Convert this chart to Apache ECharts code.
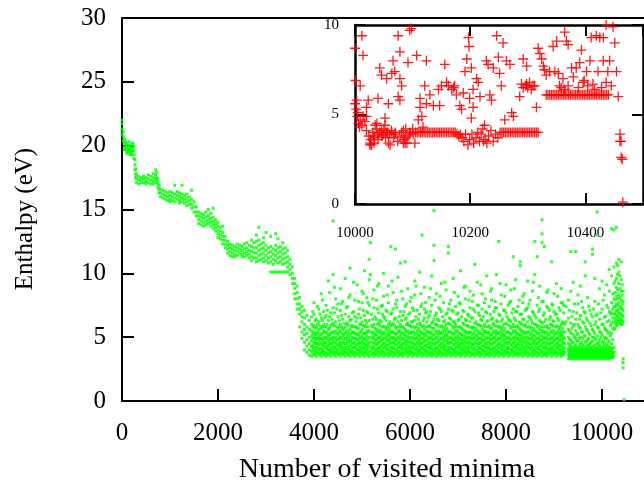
<!DOCTYPE html>
<html>
<head>
<meta charset="utf-8">
<script src="https://cdn.jsdelivr.net/npm/echarts@6/dist/echarts.min.js"></script>
<style>
  html, body { margin: 0; padding: 0; background: #fff; }
  #chart { width: 644px; height: 488px; }
</style>
</head>
<body>
<div id="chart"></div>
<script>
// Enthalpy (eV) of visited minima. Each row: [minimum index, enthalpy values at that index...]
// Initial descent, from the starting structure down to the low-enthalpy basin.
const descentCols = [
  [0, 22.0, 21.7, 21.3, 20.9],
  [25, 21.1, 20.7, 20.4],
  [50, 20.5, 20.2, 19.9, 19.7],
  [75, 20.3, 20.0, 19.7],
  [100, 20.2, 19.9, 19.6, 19.4],
  [125, 20.0, 19.7, 19.5],
  [150, 20.3, 20.0, 19.7, 19.4],
  [175, 19.9, 19.6, 19.3],
  [200, 20.1, 19.8, 19.5, 19.3],
  [225, 20.2, 19.9, 19.6],
  [250, 19.9, 19.6, 19.3, 19.0],
  [270, 18.9, 18.5, 18.1],
  [285, 18.2, 17.8, 17.5],
  [300, 17.7, 17.4, 17.1],
  [350, 17.6, 17.3, 17.0],
  [400, 17.5, 17.3, 17.1],
  [450, 17.6, 17.4, 17.1],
  [500, 17.5, 17.2, 17.0],
  [550, 17.7, 17.4, 17.1],
  [600, 17.6, 17.3, 17.0],
  [650, 17.8, 17.5, 17.2, 17.0],
  [700, 18.1, 17.7, 17.4, 17.1],
  [725, 17.9, 17.5, 17.2],
  [750, 17.4, 17.0, 16.7],
  [775, 16.9, 16.6, 16.3],
  [800, 16.6, 16.3, 16.0],
  [850, 16.5, 16.2, 15.9],
  [900, 16.4, 16.1, 15.8],
  [950, 16.3, 16.0, 15.7],
  [1000, 16.4, 16.1, 15.8, 15.6],
  [1050, 16.3, 16.0, 15.7],
  [1100, 16.9, 16.2, 15.9, 15.6],
  [1150, 16.4, 16.1, 15.8],
  [1200, 16.3, 16.0, 15.7, 15.5],
  [1250, 16.9, 16.2, 15.9, 15.6],
  [1300, 16.1, 15.8, 15.5],
  [1350, 16.2, 15.9, 15.6, 15.3],
  [1400, 16.0, 15.7, 15.4],
  [1450, 16.5, 15.8, 15.4, 15.1],
  [1500, 15.6, 15.2, 14.8],
  [1550, 15.2, 14.8, 14.5],
  [1600, 14.8, 14.5, 14.2, 13.9],
  [1650, 14.7, 14.4, 14.1, 13.8],
  [1700, 14.6, 14.3, 14.0, 13.7],
  [1750, 14.8, 14.4, 14.1, 13.8],
  [1800, 15.0, 14.5, 14.2, 13.9],
  [1850, 14.7, 14.3, 14.0, 13.7],
  [1900, 15.1, 14.4, 14.1, 13.8, 13.5],
  [1950, 14.2, 13.9, 13.6, 13.3],
  [2000, 14.0, 13.7, 13.4, 13.1, 12.8],
  [2050, 13.6, 13.3, 13.0, 12.7],
  [2100, 13.7, 13.2, 12.9, 12.6, 12.3],
  [2150, 12.9, 12.6, 12.3, 12.0],
  [2200, 12.5, 12.2, 11.9, 11.6],
  [2250, 12.3, 12.0, 11.7, 11.4],
  [2300, 12.2, 11.9, 11.6, 11.3],
  [2350, 12.1, 11.8, 11.5, 11.3],
  [2400, 12.3, 12.0, 11.7, 11.4],
  [2450, 12.2, 11.9, 11.6],
  [2500, 12.1, 11.8, 11.5, 11.3],
  [2550, 12.3, 11.9, 11.6, 11.3],
  [2600, 12.4, 12.0, 11.7, 11.4],
  [2650, 12.2, 11.8, 11.5, 11.2],
  [2700, 12.6, 12.1, 11.7, 11.3, 11.0],
  [2750, 12.4, 12.0, 11.6, 11.2],
  [2800, 13.0, 12.5, 12.0, 11.6, 11.2, 10.9],
  [2850, 13.6, 12.6, 12.2, 11.8, 11.4, 11.0],
  [2900, 12.3, 11.9, 11.5, 11.1],
  [2950, 12.8, 12.4, 12.0, 11.6, 11.2, 10.9],
  [3000, 13.2, 12.2, 11.8, 11.4, 11.0],
  [3050, 12.0, 11.6, 11.2, 10.8],
  [3100, 12.9, 12.1, 11.7, 11.3, 10.9, 10.1],
  [3150, 11.9, 11.5, 11.1, 10.7, 10.1],
  [3200, 13.1, 12.2, 11.8, 11.4, 11.0, 10.1],
  [3250, 12.7, 12.0, 11.6, 11.2, 10.8, 10.1],
  [3300, 12.1, 11.7, 11.3, 10.9, 10.1],
  [3350, 12.4, 11.9, 11.5, 11.1, 10.7, 10.1],
  [3400, 12.0, 11.6, 11.2, 10.8, 10.1],
  [3450, 11.8, 11.3, 10.9, 10.5, 10.1],
  [3500, 11.1, 10.7, 10.3, 9.9],
  [3550, 10.5, 10.0, 9.6, 9.2],
  [3600, 9.6, 9.2, 8.8, 8.4, 8.0],
  [3650, 9.0, 8.5, 8.0, 7.6, 7.2],
  [3700, 8.1, 7.6, 7.2, 6.8, 5.8],
  [3750, 7.4, 7.0, 6.6, 6.2, 5.4, 4.9],
  [3800, 7.1, 6.5, 6.0, 5.6, 5.2, 4.6, 4.0],
  [3850, 6.7, 5.8, 5.3, 4.8, 4.3, 3.8],
  [3900, 6.3, 5.6, 5.0, 4.5, 4.0, 3.6]
];

// Long plateau in the low-enthalpy basin.
const plateauCols = [
  [3950, 3.5, 3.9, 4.3, 4.7, 5.1, 5.5, 6.0, 6.6],
  [4000, 3.6, 3.9, 4.2, 4.6, 5.0, 5.4, 5.9, 6.8, 7.7],
  [4050, 3.5, 3.8, 4.2, 4.5, 4.9, 5.3, 5.8, 6.4],
  [4100, 3.6, 4.0, 4.4, 4.8, 5.1, 5.6, 6.2, 7.2],
  [4150, 3.5, 3.8, 4.1, 4.5, 4.9, 5.2, 5.7, 6.5, 8.4],
  [4200, 3.6, 3.9, 4.3, 4.6, 5.0, 5.5, 6.0, 7.0],
  [4250, 3.5, 3.8, 4.2, 4.6, 5.0, 5.4, 5.8, 6.7, 7.5],
  [4300, 3.6, 4.0, 4.3, 4.7, 5.1, 5.6, 6.3, 9.4],
  [4350, 3.5, 3.9, 4.2, 4.5, 4.9, 5.3, 5.9, 6.9],
  [4400, 3.6, 3.9, 4.3, 4.7, 5.0, 5.4, 6.1, 7.3, 9.9, 14.1],
  [4450, 3.5, 3.8, 4.2, 4.6, 5.0, 5.5, 6.2, 8.0],
  [4500, 3.6, 4.0, 4.4, 4.8, 5.2, 5.7, 6.6, 7.6],
  [4550, 3.5, 3.9, 4.3, 4.6, 5.0, 5.5, 6.0, 7.1, 8.8],
  [4600, 3.6, 3.9, 4.2, 4.6, 5.1, 5.6, 6.4, 7.8],
  [4650, 3.5, 3.8, 4.2, 4.5, 4.9, 5.3, 5.8, 6.8, 9.6],
  [4700, 3.6, 4.0, 4.3, 4.7, 5.1, 5.5, 6.1, 7.4],
  [4750, 3.5, 3.9, 4.3, 4.7, 5.1, 5.6, 6.3, 8.3, 10.4],
  [4800, 3.6, 3.9, 4.2, 4.6, 5.0, 5.4, 5.9, 6.9],
  [4850, 3.5, 3.8, 4.2, 4.6, 4.9, 5.3, 5.8, 6.6, 7.9],
  [4900, 3.6, 4.0, 4.4, 4.8, 5.2, 5.7, 6.5, 9.1],
  [4950, 3.5, 3.9, 4.2, 4.6, 5.0, 5.4, 6.0, 7.2],
  [5000, 3.6, 3.9, 4.3, 4.7, 5.1, 5.6, 6.2, 7.7, 8.6],
  [5050, 3.5, 3.8, 4.2, 4.5, 4.9, 5.3, 5.9, 6.7, 10.2],
  [5100, 3.6, 4.0, 4.3, 4.7, 5.1, 5.5, 6.1, 7.0, 8.1],
  [5150, 3.5, 3.9, 4.3, 4.6, 5.0, 5.5, 6.3, 7.5, 9.5, 11.1],
  [5175, 12.4, 9.9],
  [5200, 3.6, 3.9, 4.2, 4.6, 5.0, 5.4, 5.9, 6.8],
  [5250, 3.5, 3.8, 4.2, 4.6, 5.0, 5.4, 6.0, 7.3, 8.7],
  [5300, 3.6, 4.0, 4.4, 4.8, 5.2, 5.6, 6.4, 7.9],
  [5350, 3.5, 3.9, 4.2, 4.6, 5.0, 5.5, 6.1, 6.9, 9.2],
  [5400, 3.6, 3.9, 4.3, 4.7, 5.1, 5.5, 6.2, 7.4],
  [5450, 3.5, 3.8, 4.2, 4.5, 4.9, 5.3, 5.8, 6.6, 8.2, 10.0],
  [5500, 3.6, 4.0, 4.3, 4.7, 5.1, 5.6, 6.3, 7.1],
  [5550, 3.5, 3.9, 4.3, 4.7, 5.1, 5.5, 6.0, 7.7, 9.0],
  [5600, 3.6, 3.9, 4.2, 4.6, 5.0, 5.4, 5.9, 6.8, 12.1],
  [5650, 3.5, 3.8, 4.2, 4.6, 5.0, 5.4, 6.1, 7.2, 8.5],
  [5700, 3.6, 4.0, 4.4, 4.8, 5.2, 5.7, 6.5, 7.6, 11.9],
  [5750, 3.5, 3.9, 4.2, 4.6, 5.0, 5.5, 6.2, 9.7],
  [5800, 3.6, 3.9, 4.3, 4.7, 5.1, 5.5, 6.0, 7.0, 10.8],
  [5850, 3.5, 3.8, 4.2, 4.5, 4.9, 5.3, 5.8, 6.7, 8.0],
  [5900, 3.6, 4.0, 4.3, 4.7, 5.1, 5.6, 6.4, 7.4, 10.9],
  [5950, 3.5, 3.9, 4.3, 4.7, 5.1, 5.5, 6.1, 8.8],
  [6000, 3.6, 3.9, 4.2, 4.6, 5.0, 5.4, 5.9, 6.9, 7.8],
  [6050, 3.5, 3.8, 4.2, 4.6, 5.0, 5.4, 6.2, 7.3],
  [6100, 3.6, 4.0, 4.4, 4.8, 5.2, 5.7, 6.3, 8.3, 9.4],
  [6150, 3.5, 3.9, 4.2, 4.6, 5.0, 5.5, 6.0, 7.1],
  [6200, 3.6, 3.9, 4.3, 4.7, 5.1, 5.5, 6.1, 6.8, 10.1],
  [6250, 3.5, 3.8, 4.2, 4.5, 4.9, 5.3, 5.8, 7.6, 13.0],
  [6300, 3.6, 4.0, 4.3, 4.7, 5.1, 5.6, 6.5, 7.2, 8.9],
  [6350, 3.5, 3.9, 4.3, 4.7, 5.1, 5.5, 6.2, 7.0],
  [6400, 3.6, 3.9, 4.2, 4.6, 5.0, 5.4, 5.9, 6.7, 8.1],
  [6450, 3.5, 3.8, 4.2, 4.6, 5.0, 5.4, 6.1, 7.5, 9.8],
  [6500, 3.6, 4.0, 4.4, 4.8, 5.2, 5.7, 6.4, 11.0, 12.2, 14.9],
  [6550, 3.5, 3.9, 4.2, 4.6, 5.0, 5.5, 6.0, 6.9, 8.4],
  [6600, 3.6, 3.9, 4.3, 4.7, 5.1, 5.5, 6.3, 7.3],
  [6650, 3.5, 3.8, 4.2, 4.5, 4.9, 5.3, 5.9, 7.0, 9.2],
  [6700, 3.6, 4.0, 4.3, 4.7, 5.1, 5.6, 6.2, 7.7],
  [6750, 3.5, 3.9, 4.3, 4.7, 5.1, 5.5, 6.0, 6.8, 8.7],
  [6800, 3.6, 3.9, 4.2, 4.6, 5.0, 5.4, 6.1, 7.2, 11.6, 12.1],
  [6850, 3.5, 3.8, 4.2, 4.6, 5.0, 5.4, 6.4, 7.9],
  [6900, 3.6, 4.0, 4.4, 4.8, 5.2, 5.7, 6.2, 7.0, 9.6],
  [6950, 3.5, 3.9, 4.2, 4.6, 5.0, 5.5, 6.0, 7.4],
  [7000, 3.6, 3.9, 4.3, 4.7, 5.1, 5.5, 6.3, 6.9, 8.2],
  [7050, 3.5, 3.8, 4.2, 4.5, 4.9, 5.3, 5.8, 7.6, 10.2],
  [7100, 3.6, 4.0, 4.3, 4.7, 5.1, 5.6, 6.1, 7.1],
  [7150, 3.5, 3.9, 4.3, 4.7, 5.1, 5.5, 6.4, 8.0, 9.0],
  [7200, 3.6, 3.9, 4.2, 4.6, 5.0, 5.4, 5.9, 6.8],
  [7250, 3.5, 3.8, 4.2, 4.6, 5.0, 5.4, 6.2, 7.3, 8.6],
  [7300, 3.6, 4.0, 4.4, 4.8, 5.2, 5.7, 6.5, 7.8],
  [7350, 3.5, 3.9, 4.2, 4.6, 5.0, 5.5, 6.1, 7.0, 10.7],
  [7400, 3.6, 3.9, 4.3, 4.7, 5.1, 5.5, 6.0, 7.5, 9.3],
  [7450, 3.5, 3.8, 4.2, 4.5, 4.9, 5.3, 5.9, 6.7],
  [7500, 3.6, 4.0, 4.3, 4.7, 5.1, 5.6, 6.3, 7.2, 8.4],
  [7550, 3.5, 3.9, 4.3, 4.7, 5.1, 5.5, 6.0, 7.7],
  [7600, 3.6, 3.9, 4.2, 4.6, 5.0, 5.4, 6.2, 6.9, 9.8],
  [7650, 3.5, 3.8, 4.2, 4.6, 5.0, 5.4, 5.9, 7.4],
  [7700, 3.6, 4.0, 4.4, 4.8, 5.2, 5.7, 6.4, 7.9, 8.8],
  [7750, 3.5, 3.9, 4.2, 4.6, 5.0, 5.5, 6.1, 7.0],
  [7800, 3.6, 3.9, 4.3, 4.7, 5.1, 5.5, 6.3, 7.3, 9.9],
  [7850, 3.5, 3.8, 4.2, 4.5, 4.9, 5.3, 5.8, 6.8, 12.5],
  [7900, 3.6, 4.0, 4.3, 4.7, 5.1, 5.6, 6.2, 7.6, 8.3],
  [7950, 3.5, 3.9, 4.3, 4.7, 5.1, 5.5, 6.0, 7.1],
  [8000, 3.6, 3.9, 4.2, 4.6, 5.0, 5.4, 6.1, 6.9, 9.1],
  [8050, 3.5, 3.8, 4.2, 4.6, 5.0, 5.4, 6.4, 7.5],
  [8100, 3.6, 4.0, 4.4, 4.8, 5.2, 5.7, 6.2, 7.8, 8.7],
  [8150, 3.5, 3.9, 4.2, 4.6, 5.0, 5.5, 6.0, 7.2, 11.3],
  [8200, 3.6, 3.9, 4.3, 4.7, 5.1, 5.5, 6.3, 7.0, 9.5],
  [8250, 3.5, 3.8, 4.2, 4.5, 4.9, 5.3, 5.9, 7.4],
  [8300, 3.6, 4.0, 4.3, 4.7, 5.1, 5.6, 6.1, 6.8, 10.6, 10.9],
  [8350, 3.5, 3.9, 4.3, 4.7, 5.1, 5.5, 6.4, 7.7, 8.2],
  [8400, 3.6, 3.9, 4.2, 4.6, 5.0, 5.4, 6.0, 7.1],
  [8450, 3.5, 3.8, 4.2, 4.6, 5.0, 5.4, 6.2, 7.3, 9.4],
  [8500, 3.6, 4.0, 4.4, 4.8, 5.2, 5.7, 6.5, 7.9],
  [8550, 3.5, 3.9, 4.2, 4.6, 5.0, 5.5, 6.1, 7.0, 8.6],
  [8600, 3.6, 3.9, 4.3, 4.7, 5.1, 5.5, 6.0, 6.7, 9.9, 12.5],
  [8650, 3.5, 3.8, 4.2, 4.5, 4.9, 5.3, 5.8, 7.5, 11.3],
  [8700, 3.6, 4.0, 4.3, 4.7, 5.1, 5.6, 6.3, 7.2, 9.0],
  [8750, 3.5, 3.9, 4.3, 4.7, 5.1, 5.5, 6.1, 7.8, 12.4, 13.1, 14.2],
  [8800, 3.6, 3.9, 4.2, 4.6, 5.0, 5.4, 6.2, 6.9, 12.1],
  [8850, 3.5, 3.8, 4.2, 4.6, 5.0, 5.4, 5.9, 7.4, 8.5],
  [8900, 3.6, 4.0, 4.4, 4.8, 5.2, 5.7, 6.4, 7.1],
  [8950, 3.5, 3.9, 4.2, 4.6, 5.0, 5.5, 6.0, 7.6, 10.9],
  [9000, 3.6, 3.9, 4.3, 4.7, 5.1, 5.5, 6.2, 7.0, 8.4],
  [9050, 3.5, 3.8, 4.2, 4.5, 4.9, 5.3, 5.9, 6.8, 9.2],
  [9100, 3.6, 4.0, 4.3, 4.7, 5.1, 5.6, 6.3, 7.3],
  [9150, 3.5, 3.9, 4.3, 4.7, 5.1, 5.5, 6.0, 7.7, 8.8],
  [9200, 3.6, 3.9, 4.2, 4.6, 5.0, 5.4, 6.1, 6.9, 7.5],
  [9250, 6.2, 7.4]
];

// Minima visited between the rows above, on the same plateau.
const plateauColsMid = [
  [3975, 3.7, 4.1, 4.4, 4.9, 5.3, 5.8, 7.0],
  [4025, 3.7, 4.0, 4.5, 4.8, 5.2, 5.7, 6.3],
  [4075, 3.8, 4.1, 4.5, 4.9, 5.4, 6.0, 7.4],
  [4125, 3.7, 4.1, 4.6, 4.9, 5.3, 5.9, 6.8],
  [4175, 3.8, 4.0, 4.4, 4.8, 5.3, 5.8, 6.3, 7.9],
  [4225, 3.7, 4.2, 4.5, 4.9, 5.4, 5.8, 6.5],
  [4275, 3.7, 4.1, 4.4, 4.9, 5.3, 6.0, 7.1],
  [4325, 3.7, 4.0, 4.5, 4.8, 5.2, 5.7, 6.6, 8.5],
  [4375, 3.8, 4.1, 4.5, 4.9, 5.4, 6.0, 6.4],
  [4425, 3.7, 4.1, 4.6, 4.9, 5.3, 5.9, 6.9, 8.9],
  [4475, 3.8, 4.0, 4.4, 4.8, 5.3, 5.8, 7.2],
  [4525, 3.7, 4.2, 4.5, 4.9, 5.4, 5.8, 6.3],
  [4575, 3.7, 4.1, 4.4, 4.9, 5.3, 5.8, 6.7, 7.6],
  [4625, 3.7, 4.0, 4.5, 4.8, 5.2, 5.7, 6.1],
  [4675, 3.8, 4.1, 4.5, 4.9, 5.4, 6.0, 7.3],
  [4725, 3.7, 4.1, 4.6, 4.9, 5.3, 5.9, 6.6, 8.1],
  [4775, 3.8, 4.0, 4.4, 4.8, 5.3, 5.8, 6.4],
  [4825, 3.7, 4.2, 4.5, 4.9, 5.4, 5.8, 7.0, 9.3],
  [4875, 3.7, 4.1, 4.4, 4.9, 5.3, 5.8, 6.2],
  [4925, 3.7, 4.0, 4.5, 4.8, 5.2, 5.7, 6.8, 7.8],
  [4975, 3.8, 4.1, 4.5, 4.9, 5.4, 6.0, 6.5],
  [5025, 3.7, 4.1, 4.6, 4.9, 5.3, 5.9, 7.1, 8.4],
  [5075, 3.8, 4.0, 4.4, 4.8, 5.3, 5.8, 6.3],
  [5125, 3.7, 4.2, 4.5, 4.9, 5.4, 5.8, 6.9, 7.7],
  [5225, 3.7, 4.1, 4.4, 4.9, 5.3, 5.8, 6.4, 8.0],
  [5275, 3.7, 4.0, 4.5, 4.8, 5.2, 5.7, 6.6],
  [5325, 3.8, 4.1, 4.5, 4.9, 5.4, 6.0, 7.2, 9.0],
  [5375, 3.7, 4.1, 4.6, 4.9, 5.3, 5.9, 6.3],
  [5425, 3.8, 4.0, 4.4, 4.8, 5.3, 5.8, 6.8, 7.5],
  [5475, 3.7, 4.2, 4.5, 4.9, 5.4, 5.8, 6.5],
  [5525, 3.7, 4.1, 4.4, 4.9, 5.3, 5.8, 7.0, 8.3],
  [5575, 3.7, 4.0, 4.5, 4.8, 5.2, 5.7, 6.2],
  [5625, 3.8, 4.1, 4.5, 4.9, 5.4, 6.0, 6.9, 9.4],
  [5675, 3.7, 4.1, 4.6, 4.9, 5.3, 5.9, 6.4],
  [5725, 3.8, 4.0, 4.4, 4.8, 5.3, 5.8, 7.3, 7.9],
  [5775, 3.7, 4.2, 4.5, 4.9, 5.4, 5.8, 6.6],
  [5825, 3.7, 4.1, 4.4, 4.9, 5.3, 5.8, 6.3, 8.6],
  [5875, 3.7, 4.0, 4.5, 4.8, 5.2, 5.7, 7.0],
  [5925, 3.8, 4.1, 4.5, 4.9, 5.4, 6.0, 6.5, 7.6],
  [5975, 3.7, 4.1, 4.6, 4.9, 5.3, 5.9, 6.8],
  [6025, 3.8, 4.0, 4.4, 4.8, 5.3, 5.8, 6.2, 8.1],
  [6075, 3.7, 4.2, 4.5, 4.9, 5.4, 5.8, 7.1],
  [6125, 3.7, 4.1, 4.4, 4.9, 5.3, 5.8, 6.6, 9.0],
  [6175, 3.7, 4.0, 4.5, 4.8, 5.2, 5.7, 6.4],
  [6225, 3.8, 4.1, 4.5, 4.9, 5.4, 6.0, 7.4, 8.4],
  [6275, 3.7, 4.1, 4.6, 4.9, 5.3, 5.9, 6.3],
  [6325, 3.8, 4.0, 4.4, 4.8, 5.3, 5.8, 6.9, 7.7],
  [6375, 3.7, 4.2, 4.5, 4.9, 5.4, 5.8, 6.5],
  [6425, 3.7, 4.1, 4.4, 4.9, 5.3, 5.8, 7.0, 8.8],
  [6475, 3.7, 4.0, 4.5, 4.8, 5.2, 5.7, 6.2],
  [6525, 3.8, 4.1, 4.5, 4.9, 5.4, 6.0, 6.7, 7.9],
  [6575, 3.7, 4.1, 4.6, 4.9, 5.3, 5.9, 6.4],
  [6625, 3.8, 4.0, 4.4, 4.8, 5.3, 5.8, 7.2, 8.2],
  [6675, 3.7, 4.2, 4.5, 4.9, 5.4, 5.8, 6.6],
  [6725, 3.7, 4.1, 4.4, 4.9, 5.3, 5.8, 6.3, 9.3],
  [6775, 3.7, 4.0, 4.5, 4.8, 5.2, 5.7, 6.9],
  [6825, 3.8, 4.1, 4.5, 4.9, 5.4, 6.0, 6.5, 7.6],
  [6875, 3.7, 4.1, 4.6, 4.9, 5.3, 5.9, 7.1],
  [6925, 3.8, 4.0, 4.4, 4.8, 5.3, 5.8, 6.2, 8.5],
  [6975, 3.7, 4.2, 4.5, 4.9, 5.4, 5.8, 6.8],
  [7025, 3.7, 4.1, 4.4, 4.9, 5.3, 5.8, 6.4, 7.7],
  [7075, 3.7, 4.0, 4.5, 4.8, 5.2, 5.7, 6.6],
  [7125, 3.8, 4.1, 4.5, 4.9, 5.4, 6.0, 7.0, 8.9],
  [7175, 3.7, 4.1, 4.6, 4.9, 5.3, 5.9, 6.3],
  [7225, 3.8, 4.0, 4.4, 4.8, 5.3, 5.8, 6.7, 7.9],
  [7275, 3.7, 4.2, 4.5, 4.9, 5.4, 5.8, 6.5],
  [7325, 3.7, 4.1, 4.4, 4.9, 5.3, 5.8, 7.2, 8.3],
  [7375, 3.7, 4.0, 4.5, 4.8, 5.2, 5.7, 6.2],
  [7425, 3.8, 4.1, 4.5, 4.9, 5.4, 6.0, 6.9, 7.5],
  [7475, 3.7, 4.1, 4.6, 4.9, 5.3, 5.9, 6.4, 9.1],
  [7525, 3.8, 4.0, 4.4, 4.8, 5.3, 5.8, 6.6],
  [7575, 3.7, 4.2, 4.5, 4.9, 5.4, 5.8, 7.0, 8.0],
  [7625, 3.7, 4.1, 4.4, 4.9, 5.3, 5.8, 6.3],
  [7675, 3.7, 4.0, 4.5, 4.8, 5.2, 5.7, 6.8, 8.6],
  [7725, 3.8, 4.1, 4.5, 4.9, 5.4, 6.0, 6.5],
  [7775, 3.7, 4.1, 4.6, 4.9, 5.3, 5.9, 7.3, 7.8],
  [7825, 3.8, 4.0, 4.4, 4.8, 5.3, 5.8, 6.2],
  [7875, 3.7, 4.2, 4.5, 4.9, 5.4, 5.8, 6.7, 9.2],
  [7925, 3.7, 4.1, 4.4, 4.9, 5.3, 5.8, 6.4],
  [7975, 3.7, 4.0, 4.5, 4.8, 5.2, 5.7, 7.1, 8.2],
  [8025, 3.8, 4.1, 4.5, 4.9, 5.4, 6.0, 6.6],
  [8075, 3.7, 4.1, 4.6, 4.9, 5.3, 5.9, 6.3, 7.7],
  [8125, 3.8, 4.0, 4.4, 4.8, 5.3, 5.8, 6.9],
  [8175, 3.7, 4.2, 4.5, 4.9, 5.4, 5.8, 6.5, 8.8],
  [8225, 3.7, 4.1, 4.4, 4.9, 5.3, 5.8, 7.0],
  [8275, 3.7, 4.0, 4.5, 4.8, 5.2, 5.7, 6.2, 7.9],
  [8325, 3.8, 4.1, 4.5, 4.9, 5.4, 6.0, 6.8],
  [8375, 3.7, 4.1, 4.6, 4.9, 5.3, 5.9, 6.4, 8.4],
  [8425, 3.8, 4.0, 4.4, 4.8, 5.3, 5.8, 7.2],
  [8475, 3.7, 4.2, 4.5, 4.9, 5.4, 5.8, 6.6, 7.6],
  [8525, 3.7, 4.1, 4.4, 4.9, 5.3, 5.8, 6.3],
  [8575, 3.7, 4.0, 4.5, 4.8, 5.2, 5.7, 6.9, 9.3],
  [8625, 3.8, 4.1, 4.5, 4.9, 5.4, 6.0, 6.5],
  [8675, 3.7, 4.1, 4.6, 4.9, 5.3, 5.9, 7.0, 8.1],
  [8725, 3.8, 4.0, 4.4, 4.8, 5.3, 5.8, 6.2],
  [8775, 3.7, 4.2, 4.5, 4.9, 5.4, 5.8, 6.7, 7.8],
  [8825, 3.7, 4.1, 4.4, 4.9, 5.3, 5.8, 6.4],
  [8875, 3.7, 4.0, 4.5, 4.8, 5.2, 5.7, 7.3, 8.7],
  [8925, 3.8, 4.1, 4.5, 4.9, 5.4, 6.0, 6.6],
  [8975, 3.7, 4.1, 4.6, 4.9, 5.3, 5.9, 6.3, 7.5],
  [9025, 3.8, 4.0, 4.4, 4.8, 5.3, 5.8, 6.8],
  [9075, 3.7, 4.2, 4.5, 4.9, 5.4, 5.8, 6.5, 8.2],
  [9125, 3.7, 4.1, 4.4, 4.9, 5.3, 5.8, 7.1],
  [9175, 3.7, 4.0, 4.5, 4.8, 5.2, 5.7, 6.2, 7.7],
  [9225, 3.8, 4.1, 4.5, 4.9, 5.4, 6.0]
];

// Last stretch: a lower band around 3.3-4.1 eV, then the climb before the final drop.
const finalCols = [
  [9300, 3.3, 3.6, 3.9, 4.1, 4.5, 5.0, 5.6, 6.5, 7.9],
  [9325, 3.4, 3.5, 3.7, 3.8, 4.0, 4.3, 4.8, 5.5, 7.1],
  [9350, 3.3, 3.6, 3.9, 4.1, 4.4, 4.8, 5.3, 6.1, 8.6, 11.7],
  [9375, 3.4, 3.5, 3.7, 3.8, 4.0, 4.2, 4.6, 5.7, 6.6],
  [9400, 3.3, 3.6, 3.9, 4.1, 4.6, 5.2, 5.9, 7.0, 9.3],
  [9425, 3.4, 3.5, 3.7, 3.8, 4.0, 4.3, 5.0, 6.0, 7.6],
  [9450, 3.3, 3.6, 3.9, 4.1, 4.4, 4.9, 5.5, 6.4, 11.7],
  [9475, 3.4, 3.5, 3.7, 3.8, 4.0, 4.2, 4.7, 5.2, 6.9],
  [9500, 3.3, 3.6, 3.9, 4.1, 4.7, 5.3, 6.0, 7.6, 8.3],
  [9525, 3.4, 3.5, 3.7, 3.8, 4.0, 4.3, 4.9, 5.8, 6.4],
  [9550, 3.3, 3.6, 3.9, 4.1, 4.5, 5.0, 5.7, 6.7, 9.0],
  [9575, 3.4, 3.5, 3.7, 3.8, 4.0, 4.2, 4.6, 5.4, 7.8],
  [9600, 3.3, 3.6, 3.9, 4.1, 4.4, 4.9, 5.4, 6.2, 7.3],
  [9625, 3.4, 3.5, 3.7, 3.8, 4.0, 4.3, 5.1, 6.1, 7.0],
  [9650, 3.3, 3.6, 3.9, 4.1, 4.6, 5.1, 5.8, 6.9, 9.8, 10.9],
  [9675, 3.4, 3.5, 3.7, 3.8, 4.0, 4.2, 4.7, 5.6, 6.5],
  [9700, 3.3, 3.6, 3.9, 4.1, 4.4, 4.8, 5.5, 6.3, 8.1],
  [9725, 3.4, 3.5, 3.7, 3.8, 4.0, 4.3, 4.9, 5.3, 7.4],
  [9750, 3.3, 3.6, 3.9, 4.1, 4.5, 5.2, 6.1, 7.1],
  [9775, 3.4, 3.5, 3.7, 3.8, 4.0, 4.2, 4.6, 5.9, 6.8],
  [9800, 3.3, 3.6, 3.9, 4.1, 4.7, 5.0, 5.6, 6.6, 11.5, 11.9],
  [9825, 3.4, 3.5, 3.7, 3.8, 4.0, 4.3, 5.0, 5.5, 7.2],
  [9850, 3.3, 3.6, 3.9, 4.1, 4.4, 4.9, 5.3, 6.0, 7.8, 9.6],
  [9875, 3.4, 3.5, 3.7, 3.8, 4.0, 4.2, 4.8, 6.2, 6.7],
  [9900, 3.3, 3.6, 3.9, 4.1, 4.5, 5.1, 5.8, 6.8, 13.0, 14.8],
  [9925, 3.4, 3.5, 3.7, 3.8, 4.0, 4.3, 4.6, 5.7, 7.6],
  [9950, 3.3, 3.6, 3.9, 4.1, 4.4, 4.8, 5.4, 6.4, 8.8],
  [9975, 3.4, 3.5, 3.7, 3.8, 4.0, 4.2, 5.0, 5.4, 6.9],
  [10000, 3.3, 3.6, 3.9, 4.1, 4.6, 5.2, 6.0, 7.2, 9.4],
  [10025, 3.4, 3.5, 3.7, 3.8, 4.0, 4.3, 4.7, 6.0, 7.9],
  [10050, 3.3, 3.6, 3.9, 4.1, 4.5, 5.0, 5.7, 6.6, 8.3],
  [10075, 3.4, 3.5, 3.7, 3.8, 4.0, 4.2, 4.9, 5.6, 6.6],
  [10100, 3.3, 3.6, 3.9, 4.1, 4.4, 4.9, 5.5, 6.2, 7.5, 9.1],
  [10125, 3.4, 3.5, 3.7, 3.8, 4.0, 4.3, 4.6, 5.3, 7.3],
  [10150, 3.3, 3.6, 3.9, 4.1, 4.7, 5.4, 6.3, 7.0, 8.6, 10.3],
  [10175, 3.4, 3.5, 3.7, 3.8, 4.0, 4.2, 5.1, 5.9, 6.8],
  [10200, 3.4, 3.7, 4.0, 4.5, 5.3, 6.1, 6.9, 7.7, 9.8, 13.5],
  [10225, 3.4, 3.6, 3.8, 4.1, 4.8, 5.7, 6.5, 7.2, 8.4],
  [10250, 3.5, 3.8, 4.2, 5.6, 6.2, 6.8, 7.4, 8.0, 9.2, 10.5, 13.4],
  [10275, 5.7, 6.1, 6.5, 6.9, 7.4, 7.9, 8.5, 9.4],
  [10300, 5.9, 6.3, 6.7, 7.1, 7.6, 8.2, 8.9, 9.6, 10.8, 13.6],
  [10325, 6.0, 6.2, 6.6, 7.0, 7.5, 8.0, 8.7, 9.9, 10.6],
  [10350, 6.1, 6.4, 6.8, 7.2, 7.7, 8.3, 9.2, 10.1, 11.1],
  [10375, 6.1, 6.5, 6.9, 7.4, 8.1, 8.8, 9.8],
  [10400, 6.0, 6.4, 6.8, 7.3, 7.9, 8.6, 9.5, 10.9],
  [10420, 6.0, 6.3, 6.7, 7.2, 7.6, 8.3, 9.1],
  [10440, 6.2, 6.6, 7.1, 7.8, 8.6, 3.3, 3.0, 2.6],
  [10460, 0.1]
];

// Close-up of the last 500 minima: [index, enthalpy]
const insetScatter = [
  [10000, 8.7], [10001, 6.9], [10009, 6.6], [10012, 9.4], [10014, 8.3], [10000, 5.6], [10003, 5.8],
  [10004, 4.9], [10006, 4.5], [10008, 4.3], [10009, 4.7], [10012, 4.4], [10014, 4.9], [10017, 4.6],
  [10020, 5.4], [10023, 5.8], [10020, 4.9], [10002, 5.3], [10005, 5.1], [10026, 3.4], [10029, 3.3],
  [10032, 3.8], [10035, 4.4], [10038, 4.5], [10040, 3.9], [10043, 7.6], [10046, 7.2], [10040, 5.9],
  [10046, 4.1], [10049, 3.9], [10052, 4.4], [10052, 4.8], [10055, 7.0], [10055, 4.0], [10058, 3.4],
  [10061, 3.3], [10058, 5.6], [10064, 7.3], [10064, 4.0], [10066, 8.0], [10069, 7.4], [10069, 3.9],
  [10075, 9.4], [10078, 8.5], [10078, 7.0], [10075, 6.0], [10078, 5.8], [10081, 6.6], [10084, 4.1],
  [10087, 3.7], [10090, 3.4], [10087, 3.4], [10092, 7.9], [10095, 9.7], [10098, 9.8], [10095, 3.9],
  [10101, 3.9], [10104, 3.4], [10107, 8.3], [10110, 4.7], [10113, 5.4], [10113, 5.9], [10116, 4.9],
  [10118, 4.3], [10121, 6.6], [10124, 8.0], [10124, 5.6], [10130, 6.1], [10136, 5.5], [10145, 6.4],
  [10147, 5.5], [10150, 6.6], [10156, 7.8], [10159, 6.8], [10162, 6.6], [10168, 6.4], [10171, 6.5],
  [10173, 6.6], [10176, 6.1], [10182, 5.5], [10185, 5.3], [10188, 6.2], [10191, 7.4], [10194, 8.1],
  [10197, 9.3], [10198, 8.8], [10199, 5.9], [10202, 7.6], [10202, 4.8], [10205, 5.4], [10205, 6.4],
  [10211, 7.0], [10214, 6.8], [10217, 6.0], [10223, 3.5], [10225, 4.4], [10228, 8.0], [10231, 7.8],
  [10234, 6.1], [10237, 5.8], [10240, 7.6], [10246, 9.4], [10249, 8.2], [10251, 7.3], [10254, 6.6],
  [10257, 9.0], [10260, 4.7], [10263, 8.0], [10269, 7.8], [10272, 5.1], [10275, 4.9], [10286, 6.0],
  [10289, 6.7], [10292, 8.1], [10298, 7.7], [10298, 6.7], [10303, 6.8], [10309, 6.6], [10315, 5.4],
  [10318, 8.7], [10321, 8.4], [10324, 8.1], [10327, 7.7], [10329, 7.5], [10332, 7.2], [10338, 7.4],
  [10344, 8.8], [10347, 7.4], [10350, 9.1], [10353, 7.3], [10355, 6.6], [10361, 7.0], [10364, 9.6],
  [10367, 9.1], [10370, 8.9], [10376, 7.6], [10379, 7.1], [10384, 7.6], [10390, 7.9], [10393, 8.6],
  [10396, 6.8], [10402, 7.4], [10408, 8.0], [10410, 9.3], [10413, 6.7], [10419, 9.4], [10422, 7.4],
  [10425, 9.3], [10431, 9.3], [10431, 8.0], [10436, 10.0], [10439, 7.4], [10442, 8.0], [10445, 6.6],
  [10448, 9.9], [10451, 9.0], [10454, 7.4], [10457, 6.0], [10460, 3.9], [10460, 3.5], [10462, 3.5],
  [10462, 2.6], [10464, 2.5], [10465, 0.1]
];

// Crowded low-enthalpy cluster near the start of the close-up and after the first band.
const insetLowCluster = [
  [10020, 4.1], [10024, 3.8], [10027, 3.6], [10031, 4.0], [10034, 3.7], [10037, 4.2], [10040, 3.6],
  [10043, 4.0], [10047, 3.8], [10050, 4.2], [10053, 3.7], [10057, 4.0], [10060, 3.9], [10063, 4.1],
  [10067, 3.7], [10070, 4.0], [10074, 3.5], [10078, 3.8], [10081, 4.0], [10085, 3.6], [10088, 4.2],
  [10092, 3.8], [10096, 4.0], [10100, 4.2], [10026, 3.3], [10033, 3.4], [10084, 3.4],
  [10186, 3.7], [10189, 3.5], [10192, 3.9], [10196, 3.3], [10199, 3.6], [10203, 3.9], [10206, 3.4],
  [10210, 3.7], [10213, 4.0], [10216, 3.5], [10219, 3.9], [10222, 4.2], [10226, 3.6], [10229, 3.4],
  [10232, 3.8], [10236, 4.1], [10240, 3.5], [10244, 3.9], [10248, 3.7]
];

// Repeated minima forming flat runs at about 4.0 eV and 6.1 eV.
const insetFlatRuns = [
  [10105, 4.0], [10108, 4.0], [10111, 4.0], [10114, 4.0], [10117, 4.0], [10120, 4.0], [10123, 4.0],
  [10126, 4.0], [10129, 4.0], [10132, 4.0], [10135, 4.0], [10138, 4.0], [10141, 4.0], [10144, 4.0],
  [10147, 4.0], [10150, 4.0], [10153, 4.0], [10156, 4.0], [10159, 4.0], [10162, 4.0], [10165, 4.0],
  [10168, 4.0], [10171, 4.0], [10174, 4.0], [10177, 3.9], [10180, 3.8], [10183, 3.9],
  [10252, 4.0], [10255, 4.0], [10258, 4.0], [10261, 4.0], [10264, 4.0], [10267, 4.0], [10270, 4.0],
  [10273, 4.0], [10276, 4.0], [10279, 4.0], [10282, 4.0], [10285, 4.0], [10288, 4.0], [10291, 4.0],
  [10294, 4.0], [10297, 4.0], [10300, 4.0], [10303, 4.0], [10306, 4.0], [10309, 4.0], [10312, 4.0],
  [10315, 4.0], [10318, 4.0],
  [10332, 6.1], [10335, 6.1], [10338, 6.1], [10341, 6.1], [10344, 6.1], [10347, 6.1], [10350, 6.1],
  [10353, 6.1], [10356, 6.1], [10359, 6.1], [10362, 6.1], [10365, 6.1], [10368, 6.1], [10371, 6.1],
  [10374, 6.1], [10377, 6.1], [10380, 6.1], [10383, 6.1], [10386, 6.1], [10389, 6.1], [10392, 6.1],
  [10395, 6.1], [10398, 6.1], [10401, 6.1], [10404, 6.1], [10407, 6.1], [10410, 6.1], [10413, 6.1],
  [10416, 6.1], [10419, 6.1], [10422, 6.1], [10425, 6.1], [10428, 6.1], [10431, 6.1], [10434, 6.1],
  [10437, 6.1], [10440, 6.1],
  [10292, 6.5], [10296, 6.6], [10300, 6.5], [10306, 6.4], [10312, 6.6], [10358, 6.5], [10364, 6.4],
  [10370, 6.6], [10388, 6.5], [10398, 6.9], [10404, 6.6], [10416, 6.4], [10428, 6.5], [10436, 6.8]
];

// Flatten [x, y1, y2, ...] rows into [x, y] points.
function toPoints(cols) {
  const pts = [];
  cols.forEach(function (row) {
    for (let i = 1; i < row.length; i++) pts.push([row[0], row[i]]);
  });
  return pts;
}

const greenPoints = toPoints(descentCols).concat(
  toPoints(plateauCols), toPoints(plateauColsMid), toPoints(finalCols));
const redPoints = insetScatter.concat(insetLowCluster, insetFlatRuns);

const FONT = 'Liberation Serif';
const black = '#000';
const PLUS = 'path://M0,4.35H10V5.65H0Z M4.35,0H5.65V10H4.35Z';
const plain = function (v) { return String(v); };

const axisLine = { show: true, onZero: false, lineStyle: { color: black, width: 2 } };
const insetLine = { show: true, onZero: false, lineStyle: { color: black, width: 2.5 } };
const insetTick = { show: true, inside: true, length: 11, lineStyle: { color: black, width: 2 } };
const noSplit = { show: false };

const chart = echarts.init(document.getElementById('chart'), null, { renderer: 'canvas' });
chart.setOption({
  animation: false,
  backgroundColor: '#fff',
  grid: [
    { left: 122, top: 18, right: -54, bottom: 87, containLabel: false, outerBoundsMode: 'none' },
    { left: 355, top: 25, right: 1, bottom: 284, containLabel: false, outerBoundsMode: 'none' }
  ],
  xAxis: [
    {
      gridIndex: 0, type: 'value', min: 0, max: 12000, interval: 2000,
      axisLine: axisLine,
      axisTick: { show: true, inside: true, length: 12, lineStyle: { color: black, width: 2 } },
      axisLabel: { color: black, fontFamily: FONT, fontSize: 25, margin: 20, formatter: plain },
      splitLine: noSplit
    },
    {
      gridIndex: 0, type: 'value', min: 0, max: 12000, position: 'top',
      axisLine: axisLine, axisTick: { show: false }, axisLabel: { show: false }, splitLine: noSplit
    },
    {
      gridIndex: 1, type: 'value', min: 10000, max: 10500, interval: 200,
      axisLine: insetLine, axisTick: insetTick,
      axisLabel: { color: black, fontFamily: FONT, fontSize: 15, margin: 22, showMaxLabel: false, formatter: plain },
      splitLine: noSplit
    },
    {
      gridIndex: 1, type: 'value', min: 10000, max: 10500, interval: 200, position: 'top',
      axisLine: insetLine, axisTick: insetTick, axisLabel: { show: false }, splitLine: noSplit
    }
  ],
  yAxis: [
    {
      gridIndex: 0, type: 'value', min: 0, max: 30, interval: 5,
      axisLine: axisLine,
      axisTick: { show: true, inside: true, length: 12, lineStyle: { color: black, width: 2 } },
      axisLabel: { color: black, fontFamily: FONT, fontSize: 25, margin: 16, formatter: plain },
      splitLine: noSplit
    },
    {
      gridIndex: 1, type: 'value', min: 0, max: 10, interval: 5,
      axisLine: insetLine, axisTick: insetTick,
      axisLabel: { color: black, fontFamily: FONT, fontSize: 15, margin: 16, formatter: plain },
      splitLine: noSplit
    },
    {
      gridIndex: 1, type: 'value', min: 0, max: 10, interval: 5, position: 'right',
      axisLine: insetLine, axisTick: insetTick, axisLabel: { show: false }, splitLine: noSplit
    }
  ],
  series: [
    {
      type: 'scatter', xAxisIndex: 0, yAxisIndex: 0,
      data: greenPoints, symbol: 'rect', symbolSize: 3,
      itemStyle: { color: '#00ff00' }, silent: true
    },
    {
      type: 'scatter', xAxisIndex: 2, yAxisIndex: 1,
      data: redPoints, symbol: PLUS, symbolSize: 10,
      itemStyle: { color: '#ff0000', opacity: 0.9 }, silent: true
    }
  ],
  graphic: [
    {
      type: 'text', x: 25, y: 219, rotation: Math.PI / 2,
      style: { text: 'Enthalpy (eV)', fill: black, font: '25px "Liberation Serif"', textAlign: 'center', textVerticalAlign: 'middle' }
    },
    {
      type: 'text', x: 387, y: 470,
      style: { text: 'Number of visited minima', fill: black, font: '28px "Liberation Serif"', textAlign: 'center', textVerticalAlign: 'middle' }
    }
  ]
});
</script>
</body>
</html>
